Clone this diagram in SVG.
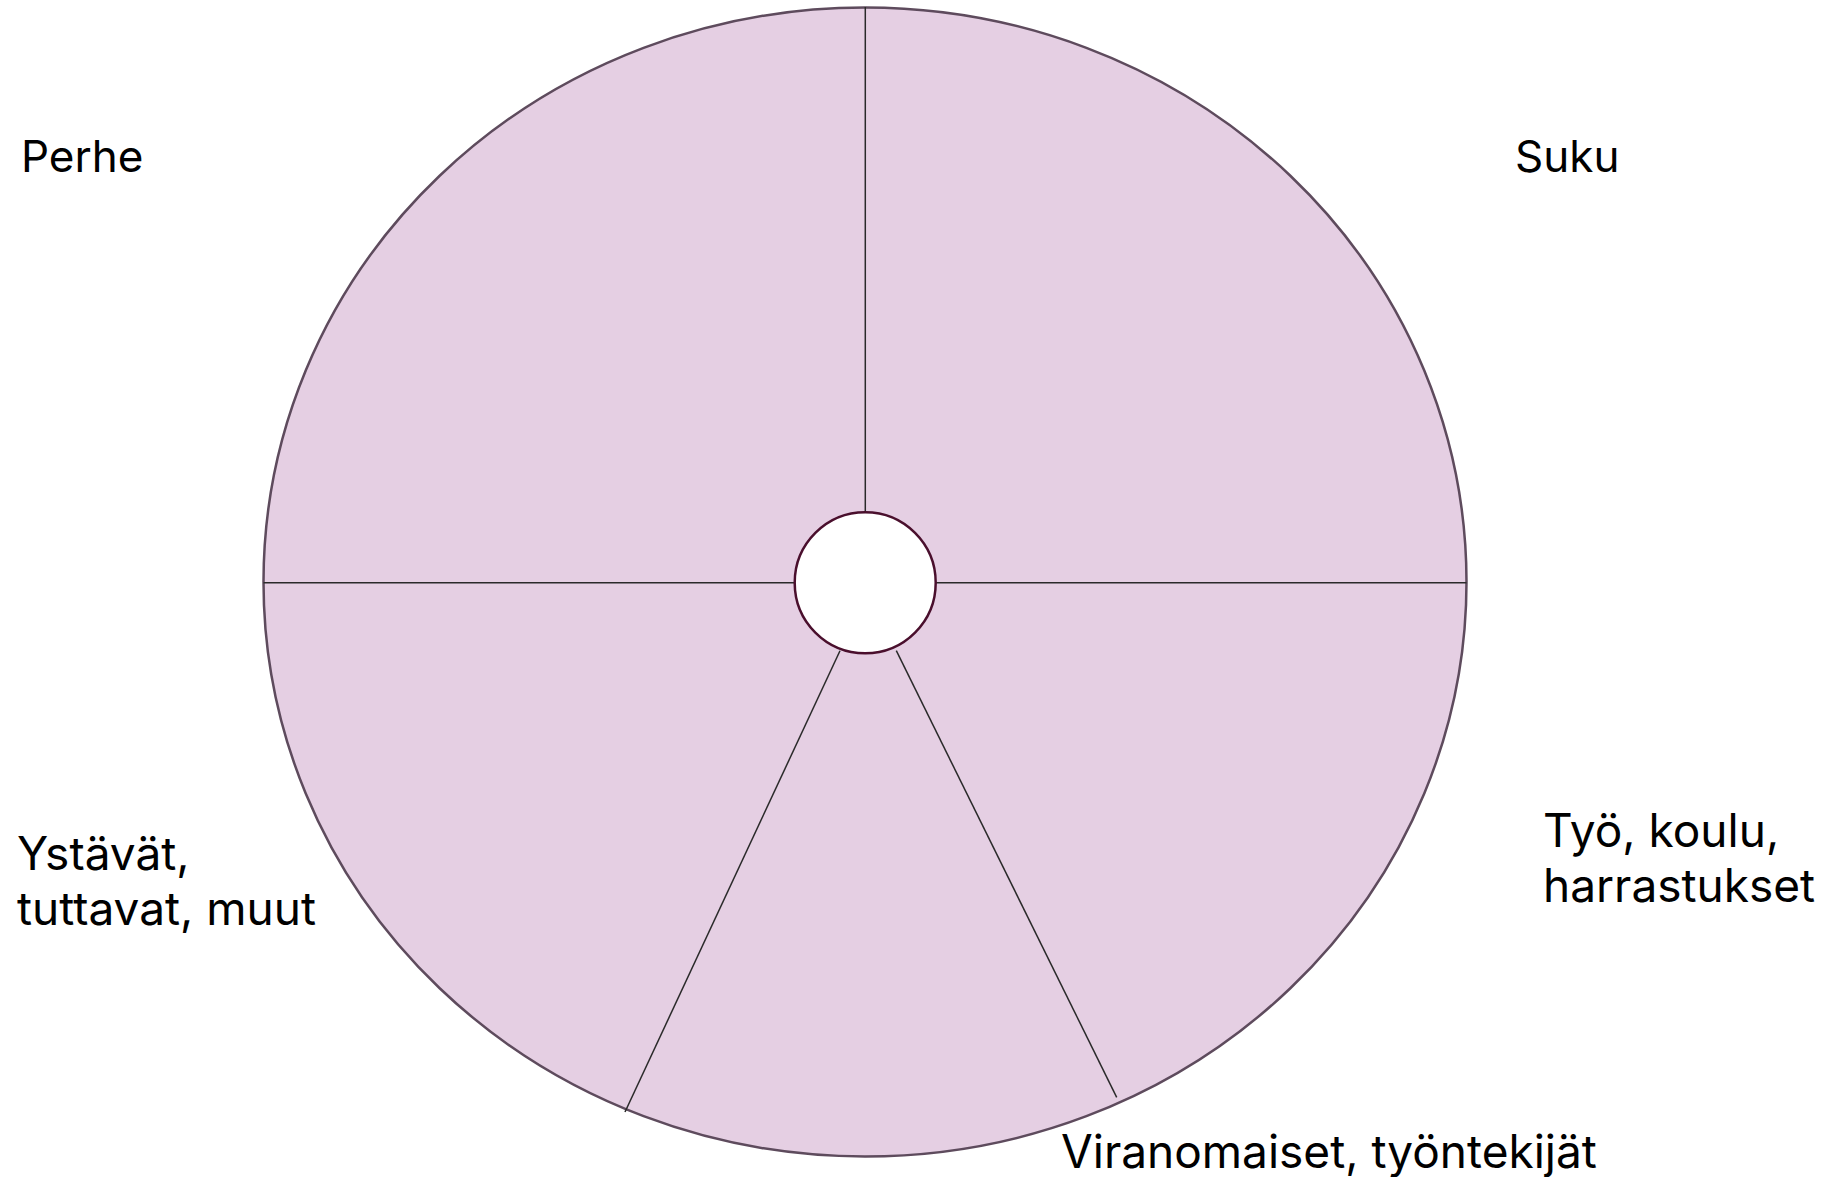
<svg xmlns="http://www.w3.org/2000/svg" width="1836" height="1177" viewBox="0 0 1836 1177">
<style>
.lbl{font-family:Inter,"Open Sans","Liberation Sans",sans-serif;font-size:46px;fill:#000}
.sm{font-size:44px}
.div{stroke:#2a2a2a;stroke-width:1.5;fill:none}
</style>
<rect width="1836" height="1177" fill="#fff"/>
<g id="wheel">
<ellipse cx="865" cy="582" rx="601.5" ry="574.5" fill="#e5cfe3" stroke="#5e4b5d" stroke-width="2.5"/>
</g>
<g id="connectors">
<line class="div" x1="865.3" y1="7" x2="865.3" y2="512"/>
<line class="div" x1="263.5" y1="582.7" x2="795" y2="582.7" stroke="#3a3340"/>
<line class="div" x1="936" y1="582.7" x2="1466.5" y2="582.7" stroke="#3a3340"/>
<line class="div" x1="840" y1="650.7" x2="625" y2="1112"/>
<line class="div" x1="896.3" y1="650.7" x2="1116.7" y2="1097.3"/>
</g>
<g id="center">
<circle cx="865.2" cy="582.8" r="70.5" fill="#fff" stroke="#4a0f2d" stroke-width="2.5"/>
</g>
<g id="perhe"><text class="lbl sm" x="21" y="172">Perhe</text></g>
<g id="suku"><text class="lbl sm" x="1515" y="172">Suku</text></g>
<g id="ystavat"><text class="lbl" x="17" y="870">Ystävät,</text><text class="lbl" x="17" y="925">tuttavat, muut</text></g>
<g id="tyo"><text class="lbl" x="1543" y="847">Työ, koulu,</text><text class="lbl" x="1543" y="902">harrastukset</text></g>
<g id="viranomaiset"><text class="lbl" x="1061" y="1168">Viranomaiset, työntekijät</text></g>
</svg>
